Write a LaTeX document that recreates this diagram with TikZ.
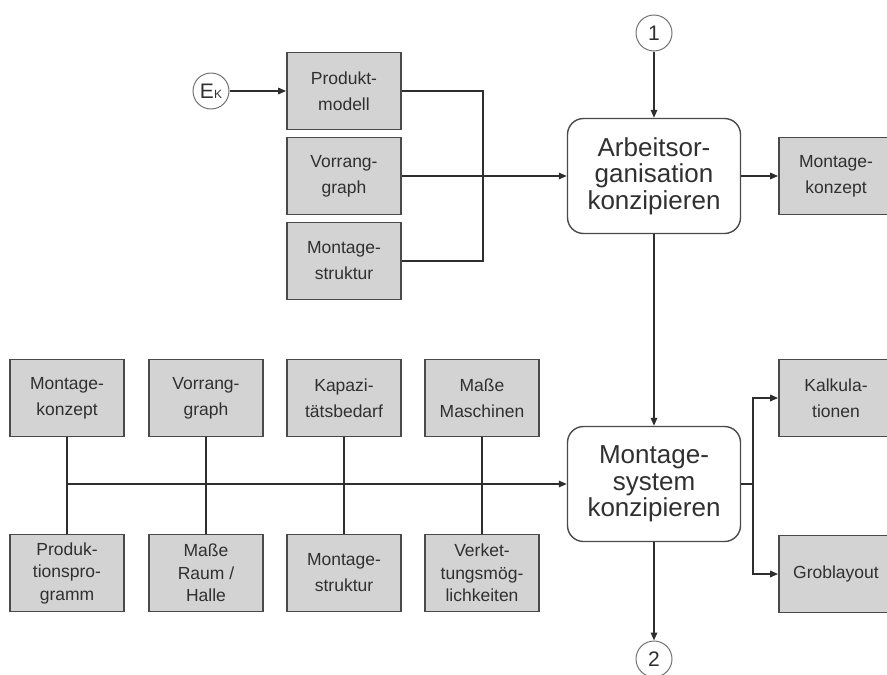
\documentclass[tikz,border=0pt]{standalone}
\usepackage{fontspec}
\setmainfont{Liberation Sans}
\usetikzlibrary{arrows.meta}
\definecolor{boxfill}{HTML}{D3D3D3}
\definecolor{boxline}{HTML}{4A4A4A}
\definecolor{wirecol}{HTML}{2E2E2E}
\definecolor{txt}{HTML}{303030}
\tikzset{
  databox/.style={draw=boxline, line width=1.8pt, fill=boxfill,
    minimum width=114pt, minimum height=77pt, inner sep=0pt, align=center,
    font=\fontsize{17.5}{26}\selectfont, text=txt},
  threeline/.style={font=\fontsize{17.5}{22.5}\selectfont},
  taskbox/.style={draw=boxline, line width=1.4pt, rounded corners=16pt, fill=white,
    minimum width=173pt, minimum height=115pt, inner sep=0pt, align=center,
    font=\fontsize{26}{26.5}\selectfont, text=txt},
  linkcircle/.style={circle, draw=black!55, line width=1pt, fill=white,
    minimum size=36pt, inner sep=0pt, font=\fontsize{21}{21}\selectfont, text=txt},
  wire/.style={draw=wirecol, line width=1.6pt},
  flow/.style={wire, -{Triangle[length=8pt,width=6.5pt]}},
}
\begin{document}
\begin{tikzpicture}[x=1pt,y=-1pt]
\clip (0,0) rectangle (887,675);
\useasboundingbox (0,0) rectangle (887,675);

% upper stage: inputs, task, result
\node[linkcircle] (ek) at (211,91) {E{\fontsize{12}{12}\selectfont K}};
\node[databox] (pm) at (344,91) {Produkt-\\modell};
\node[databox] (vg1) at (344,176) {Vorrang-\\graph};
\node[databox] (ms1) at (344,261) {Montage-\\struktur};
\node[taskbox] (ao) at (654,176) {Arbeitsor-\\ganisation\\konzipieren};
\node[linkcircle] (c1) at (654,33) {1};
\node[databox] (mk1) at (836,176) {Montage-\\konzept};

\coordinate (jtop) at (483,91);
\coordinate (jbot) at (483,261);

\draw[flow] (ek) -- (pm);
\draw[wire] (pm.east) -- (jtop) -- (jbot) -- (ms1.east);
\draw[flow] (vg1.east) -- (ao.west);
\draw[flow] (c1) -- (ao);
\draw[flow] (ao) -- (mk1);

% lower stage: inputs, task, results
\node[databox] (t1) at (67,398) {Montage-\\konzept};
\node[databox] (t2) at (206,398) {Vorrang-\\graph};
\node[databox] (t3) at (344,398) {Kapazi-\\tätsbedarf};
\node[databox] (t4) at (482,398) {Maße\\Maschinen};
\node[databox, threeline] (b1) at (67,573) {Produk-\\tionspro-\\gramm};
\node[databox, threeline] (b2) at (206,573) {Maße\\Raum /\\Halle};
\node[databox] (b3) at (344,573) {Montage-\\struktur};
\node[databox, threeline] (b4) at (482,573) {Verket-\\tungsmög-\\lichkeiten};

\node[taskbox] (msys) at (654,484) {Montage-\\system\\konzipieren};
\node[linkcircle] (c2) at (654,659) {2};
\node[databox] (kalk) at (836,398) {Kalkula-\\tionen};
\node[databox] (grob) at (836,574) {Groblayout};

\draw[wire] (t1) -- (b1);
\draw[wire] (t2) -- (b2);
\draw[wire] (t3) -- (b3);
\draw[wire] (t4) -- (b4);
\coordinate (bus) at (67,484);
\draw[flow] (bus) -- (msys.west);

\draw[flow] (ao) -- (msys);
\draw[flow] (msys) -- (c2);

\coordinate (split) at (753,484);
\draw[wire] (msys.east) -- (split);
\draw[flow] (split) |- (kalk.west);
\draw[flow] (split) |- (grob.west);
\end{tikzpicture}
\end{document}
